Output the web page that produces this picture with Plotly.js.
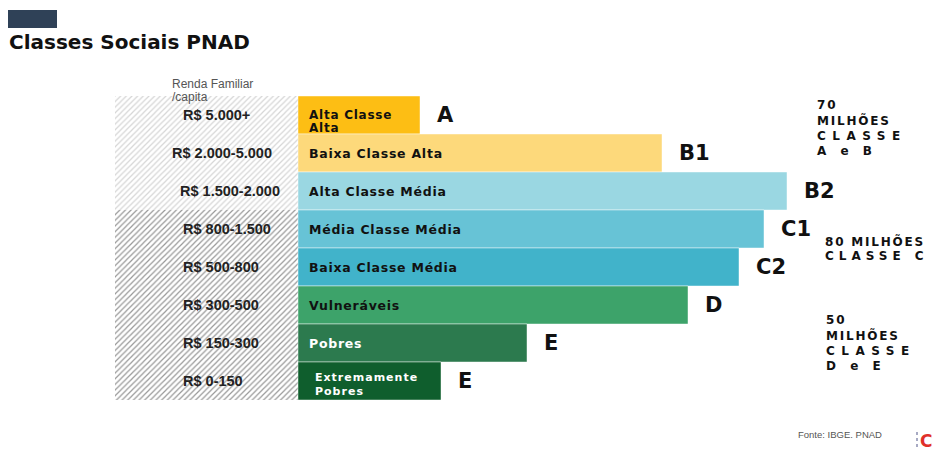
<!DOCTYPE html>
<html>
<head>
<meta charset="utf-8">
<script src="https://cdn.plot.ly/plotly-3.0.1.min.js"></script>
<style>
  html, body { margin: 0; padding: 0; background: #fff; }
  #chart { width: 936px; height: 456px; }
</style>
</head>
<body>
<div id="chart"></div>
<script>
// ---- data ----
const rendaLabels = ["R$ 5.000+", "R$ 2.000-5.000", "R$ 1.500-2.000", "R$ 800-1.500",
                     "R$ 500-800", "R$ 300-500", "R$ 150-300", "R$ 0-150"];
const classNames = ["Alta Classe<br>Alta", "Baixa Classe Alta", "Alta Classe Média", "Média Classe Média",
                    "Baixa Classe Média", "Vulneráveis", "Pobres", "Extremamente<br>Pobres"];
const classLetters = ["A", "B1", "B2", "C1", "C2", "D", "E", "E"];
const barValues = [122, 364, 489, 466, 441, 390, 229, 143];
const barColors = ["#FDBE14", "#FDD97B", "#9AD7E2", "#67C3D6", "#41B3CA", "#3DA36A", "#2C7A4E", "#0F5E2D"];
const nameColors = ["#111", "#111", "#111", "#111", "#111", "#111", "#fff", "#fff"];
const groupNotes = ["70<br>MILHÕES<br>CLASSE<br>A e B", "80 MILHÕES<br>CLASSE C", "50<br>MILHÕES<br>CLASSE<br>D e E"];

// ---- layout constants ----
const ML = 115, MT = 96, MB = 56, W = 936, H = 456;
const PW = W - ML, PH = H - MT - MB;
const px = v => (v - ML) / PW;          // page pixel -> paper x
const py = v => (H - MB - v) / PH;      // page pixel -> paper y
const HATCH_W = 183;
const hatchFg = ["#d6d6d6", "#d6d6d6", "#d6d6d6", "#999", "#999", "#999", "#999", "#999"];
const ARIAL = "Liberation Sans, Arial, sans-serif";
const HEAVY = "DejaVu Sans, sans-serif";

const hatchTrace = {
  type: "bar", orientation: "h",
  y: rendaLabels, x: rendaLabels.map(() => HATCH_W), base: rendaLabels.map(() => -HATCH_W),
  marker: { color: "#ffffff", line: { width: 0 },
            pattern: { shape: "/", fgcolor: hatchFg, bgcolor: "#ffffff", size: 4, solidity: 0.3 } },
  hoverinfo: "skip", showlegend: false
};
const mainTrace = {
  type: "bar", orientation: "h",
  y: rendaLabels, x: barValues, base: 0,
  marker: { color: barColors, line: { color: "rgba(255,255,255,0.45)", width: 1 } },
  showlegend: false, hoverinfo: "x+y"
};

const annotations = [];
const spacingMap = {};
function add(a, ls) {
  if (ls) spacingMap[annotations.length] = ls;
  annotations.push(Object.assign({ showarrow: false, align: "left" }, a));
}
const rendaShift = [0, -11, -3, 0, 0, 0, 0, 0];
rendaLabels.forEach((lab, i) => {
  add({ x: -117, y: lab, xref: "x", yref: "y", text: lab, xanchor: "left", yanchor: "middle",
        xshift: rendaShift[i], font: { family: ARIAL, size: 14.5, color: "#222", weight: "bold" } });
  const lines = classNames[i].split("<br>");
  const small = lines.length > 1 && i === 7;
  const step = small ? 14 : 13;
  const drop = lines.length > 1 ? (small ? 3 : 6) : 0;
  lines.forEach((ln, j) => {
    add({ x: 0, y: lab, xref: "x", yref: "y", text: ln, xanchor: "left", yanchor: "middle",
          xshift: small ? 15 : 9, yshift: -((j - (lines.length - 1) / 2) * step) - drop,
          font: { family: HEAVY, size: small ? 11 : (lines.length > 1 ? 12 : 12.5), color: nameColors[i], weight: "bold" } },
        small ? "1px" : "0.75px");
  });
  add({ x: barValues[i], y: lab, xref: "x", yref: "y", text: classLetters[i],
        xanchor: "left", yanchor: "middle", xshift: 15,
        font: { family: HEAVY, size: 21, color: "#111", weight: "bold" } });
});
// axis header
add({ xref: "paper", yref: "paper", x: px(170), y: py(84), xanchor: "left", yanchor: "middle",
      text: "Renda Familiar", font: { family: ARIAL, size: 12, color: "#555" } });
add({ xref: "paper", yref: "paper", x: px(170), y: py(97), xanchor: "left", yanchor: "middle",
      text: "/capita", font: { family: ARIAL, size: 12, color: "#555" } });
// title
add({ xref: "paper", yref: "paper", x: px(7), y: py(42), xanchor: "left", yanchor: "middle",
      text: "Classes Sociais PNAD", font: { family: HEAVY, size: 20, color: "#111", weight: "bold" } });
// group notes on the right
const noteStart = [[815, 105], [823, 241], [824, 320]];
groupNotes.forEach((t, k) => {
  t.split("<br>").forEach((ln, j) => {
    let ls = "1.8px";
    if (/^CLASSE C/.test(ln)) ls = "5px";
    else if (/^CLASSE/.test(ln)) ls = "6.5px";
    else if (/^[AD] e [BE]$/.test(ln)) ls = "5px";
    add({ xref: "paper", yref: "paper", x: px(noteStart[k][0]), y: py(noteStart[k][1] + j * 15.4),
          xanchor: "left", yanchor: "middle", text: ln,
          font: { family: HEAVY, size: 12, color: "#111", weight: "bold" } }, ls);
  });
});
// source + logo
add({ xref: "paper", yref: "paper", x: px(796), y: py(434), xanchor: "left", yanchor: "middle",
      text: "Fonte: IBGE. PNAD", font: { family: ARIAL, size: 9.5, color: "#555" } });
add({ xref: "paper", yref: "paper", x: px(926), y: py(441), xanchor: "center", yanchor: "middle",
      text: "C", font: { family: HEAVY, size: 17, color: "#e0302a", weight: "bold" } });

const layout = {
  width: W, height: H,
  margin: { l: ML, r: 0, t: MT, b: MB },
  paper_bgcolor: "#ffffff", plot_bgcolor: "rgba(0,0,0,0)",
  barmode: "overlay", bargap: 0,
  xaxis: { range: [-HATCH_W, PW - HATCH_W], autorange: false, visible: false, fixedrange: true },
  yaxis: { type: "category", categoryarray: rendaLabels, autorange: false,
           range: [rendaLabels.length - 0.5, -0.5], visible: false, fixedrange: true },
  shapes: [
    { type: "rect", xref: "paper", yref: "paper", x0: px(8), x1: px(57), y0: py(28), y1: py(10),
      fillcolor: "#2F4157", line: { width: 0 } },
    { type: "line", xref: "paper", yref: "paper", x0: px(917), x1: px(917), y0: py(432), y1: py(450),
      line: { color: "#8a8fb0", width: 1.5, dash: "dot" } }
  ],
  annotations: annotations,
  showlegend: false
};

Plotly.newPlot("chart", [hatchTrace, mainTrace], layout, { displayModeBar: false, staticPlot: true }).then(gd => {
  Object.keys(spacingMap).forEach(idx => {
    const t = gd.querySelector('.annotation[data-index="' + idx + '"] text');
    if (t) t.style.letterSpacing = spacingMap[idx];
  });
});
</script>
</body>
</html>
